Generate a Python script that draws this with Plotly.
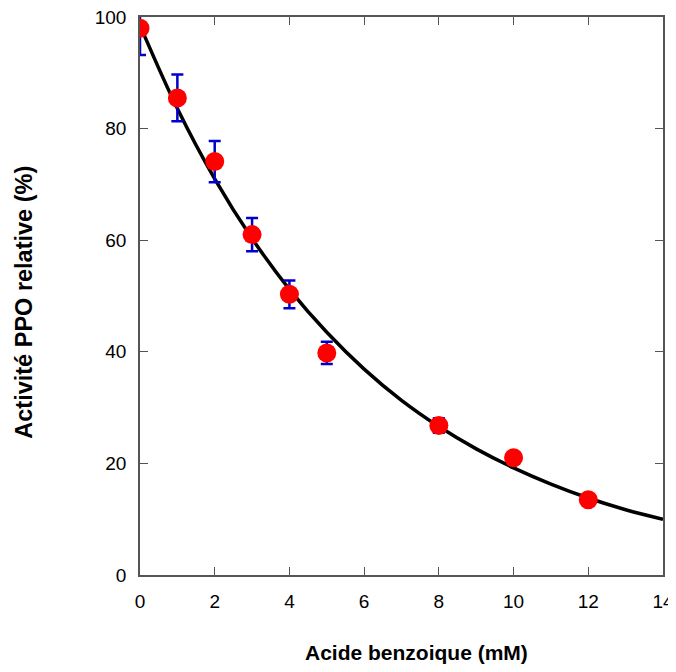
import plotly.graph_objects as go

# measured points
conc = [0, 1, 2, 3, 4, 5, 8, 10, 12]
activite = [98.0, 85.5, 74.1, 61.0, 50.3, 39.8, 26.8, 21.0, 13.5]
erreur = [4.8, 4.2, 3.7, 3.0, 2.5, 2.0, 1.3, 0, 0]

# fitted curve
fit_x = [0, 1, 2, 3, 4, 5, 6, 7, 8, 9, 10, 11, 12, 13, 14]
fit_y = [98.5, 83.6, 71.0, 60.3, 51.2, 43.5, 36.9, 31.3, 26.6, 22.6, 19.2, 16.3, 13.8, 11.7, 10.0]

fig = go.Figure()

fig.add_trace(go.Scatter(
    x=fit_x, y=fit_y, mode='lines',
    line=dict(color='black', width=3.5, shape='spline'),
    showlegend=False
))

fig.add_trace(go.Scatter(
    x=conc, y=activite, mode='markers',
    marker=dict(color='#ff0000', size=19),
    error_y=dict(type='data', array=erreur, color='#0000cc', thickness=2.5, width=6),
    showlegend=False
))

tick_font = dict(family='Liberation Sans, Arial', size=19, color='black')

# page body has an 8px margin, so the figure is a bit smaller than the window
fig.update_layout(
    width=668, height=656,
    margin=dict(l=132, r=13, t=9, b=89),
    plot_bgcolor='white', paper_bgcolor='white',
    xaxis=dict(
        range=[0, 14], tickvals=[0, 2, 4, 6, 8, 10, 12, 14],
        showgrid=False, zeroline=False, automargin=False,
        showline=True, linecolor='#555', linewidth=1.5, mirror='ticks',
        ticks='inside', ticklen=8, tickcolor='#555',
        tickfont=tick_font, ticklabelstandoff=8, ticklabeloverflow='allow'
    ),
    yaxis=dict(
        range=[0, 100], tickvals=[0, 20, 40, 60, 80, 100],
        showgrid=False, zeroline=False, automargin=False,
        showline=True, linecolor='#555', linewidth=1.5, mirror='ticks',
        ticks='inside', ticklen=8, tickcolor='#555',
        tickfont=tick_font, ticklabelstandoff=8, ticklabeloverflow='allow'
    ),
    annotations=[
        dict(text='<b>Acide benzoique (mM)</b>', xref='paper', yref='paper',
             x=0.529, y=0, yanchor='middle', yshift=-77, showarrow=False,
             font=dict(family='Liberation Sans, Arial', size=21, color='black')),
        dict(text='<b>Activité PPO relative (%)</b>', xref='paper', yref='paper',
             x=0, y=0.488, xanchor='center', xshift=-116, textangle=-90, showarrow=False,
             font=dict(family='Liberation Sans, Arial', size=23.5, color='black')),
    ],
)

fig.write_html('out.html')
